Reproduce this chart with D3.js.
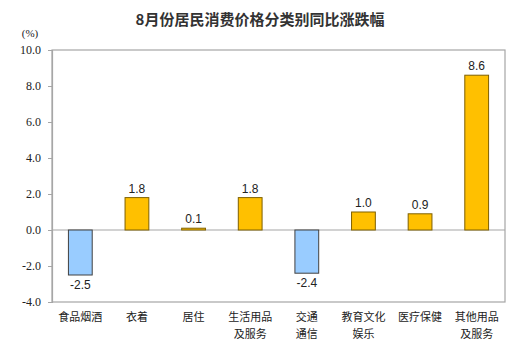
<!DOCTYPE html>
<html><head><meta charset="utf-8">
<script src="https://cdn.jsdelivr.net/npm/d3@7"></script>
<style>body{margin:0;background:#fff}svg{display:block}</style>
</head><body><svg id="c" width="529" height="357"></svg>
<script>
const categories = [["食品烟酒"],["衣着"],["居住"],["生活用品","及服务"],["交通","通信"],["教育文化","娱乐"],["医疗保健"],["其他用品","及服务"]];
const values = [-2.5, 1.8, 0.1, 1.8, -2.4, 1.0, 0.9, 8.6];
const yTicks = [-4, -2, 0, 2, 4, 6, 8, 10];
const title = "8月份居民消费价格分类别同比涨跌幅";
const unit = "(%)";

const fmt = d => d.toFixed(1);
const svg = d3.select("#c");
const L = 52, R = 505, T = 50, B = 302;
const x = d3.scaleBand().domain(d3.range(values.length)).range([L, R]).paddingInner(0.58).paddingOuter(0.29);
const y = d3.scaleLinear().domain([-4, 10]).range([B, T]);

svg.append("text").attr("x", 260).attr("y", 25).attr("text-anchor", "middle")
  .attr("font-family", "Noto Sans CJK SC").attr("font-size", 15).attr("font-weight", "bold").attr("fill", "#333").text(title);
svg.append("text").attr("x", 30).attr("y", 37).attr("text-anchor", "middle")
  .attr("font-family", "Liberation Serif").attr("font-size", 11).attr("fill", "#222").text(unit);

svg.append("rect").attr("x", L).attr("y", T).attr("width", R - L).attr("height", B - T)
  .attr("fill", "none").attr("stroke", "#a6a6a6").attr("stroke-width", 1.2);

const yAxis = svg.append("g").attr("transform", `translate(${L},0)`)
  .call(d3.axisLeft(y).tickValues(yTicks).tickFormat(fmt).tickSize(4).tickPadding(7));
yAxis.select(".domain").attr("stroke", "#a6a6a6").attr("stroke-width", 1.2);
yAxis.selectAll(".tick line").attr("stroke", "#a6a6a6");
yAxis.selectAll(".tick text").attr("font-family", "Liberation Serif").attr("font-size", 12).attr("fill", "#222");

svg.append("line").attr("x1", L).attr("x2", R).attr("y1", y(0)).attr("y2", y(0))
  .attr("stroke", "#a6a6a6").attr("stroke-width", 1.2);

svg.selectAll("rect.bar").data(values).join("rect").attr("class", "bar")
  .attr("x", (d, i) => x(i)).attr("width", x.bandwidth())
  .attr("y", d => y(Math.max(0, d))).attr("height", d => Math.abs(y(d) - y(0)))
  .attr("fill", d => d < 0 ? "#99ccff" : "#ffc000")
  .attr("stroke", d => d < 0 ? "#404040" : "#7f6000").attr("stroke-width", 1);

svg.selectAll("text.val").data(values).join("text").attr("class", "val")
  .attr("x", (d, i) => x(i) + x.bandwidth() / 2)
  .attr("y", d => d < 0 ? y(d) + 14 : y(d) - 5)
  .attr("text-anchor", "middle").attr("font-family", "Liberation Sans").attr("font-size", 12).attr("fill", "#222")
  .text(fmt);

const cat = svg.selectAll("g.cat").data(categories).join("g").attr("class", "cat");
cat.each(function(lines, i) {
  d3.select(this).selectAll("text").data(lines).join("text")
    .attr("x", x(i) + x.bandwidth() / 2).attr("y", (d, j) => 321 + j * 17)
    .attr("text-anchor", "middle").attr("font-family", "Noto Sans CJK SC").attr("font-size", 11).attr("fill", "#222")
    .text(d => d);
});
</script></body></html>
